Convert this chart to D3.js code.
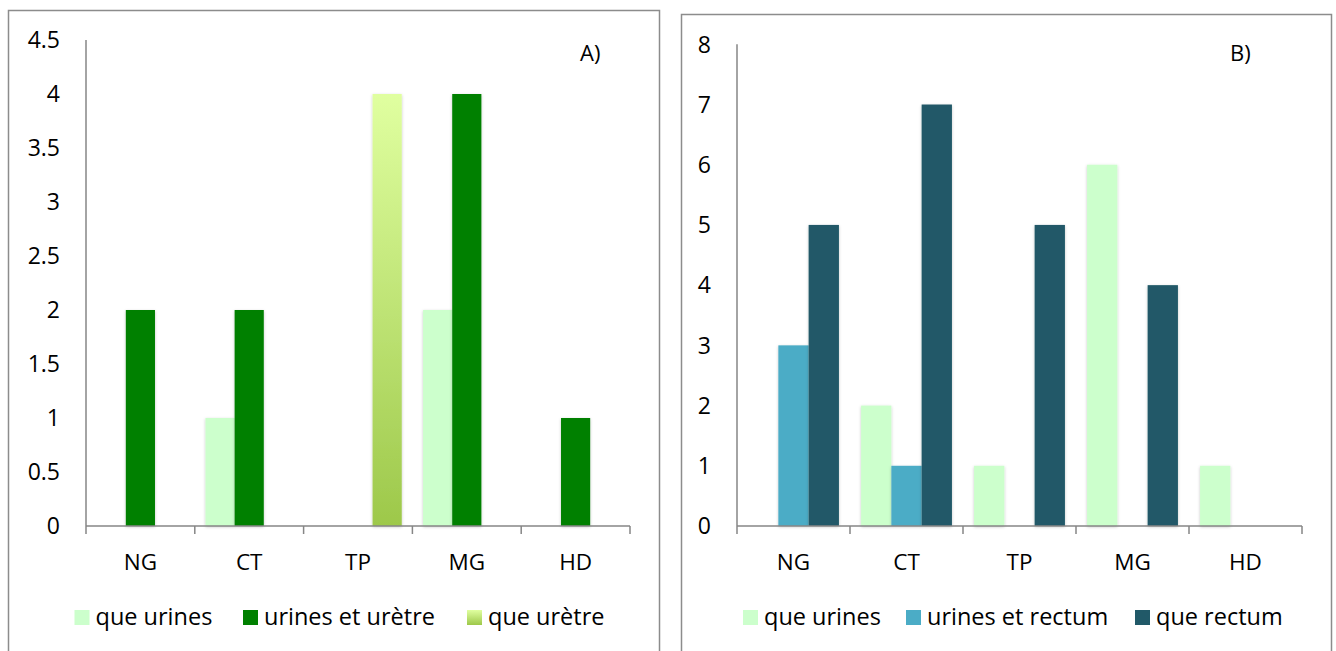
<!DOCTYPE html>
<html>
<head>
<meta charset="utf-8">
<script src="https://cdn.jsdelivr.net/npm/d3@7"></script>
<style>
  html, body { margin: 0; padding: 0; background: #fff; }
  svg { display: block; }
  text { font-family: "Open Sans", "Noto Sans", sans-serif; fill: #000; }
</style>
</head>
<body>
<svg id="chart" width="1336" height="651"></svg>
<script>
// ---- data ----
const categories = ["NG", "CT", "TP", "MG", "HD"];

const seriesA = ["que urines", "urines et urètre", "que urètre"];
const queUrinesA = [0, 1, 0, 2, 0];
const urinesEtUretreA = [2, 2, 0, 4, 1];
const queUretreA = [0, 0, 4, 0, 0];
const ticksA = [0, 0.5, 1, 1.5, 2, 2.5, 3, 3.5, 4, 4.5];

const seriesB = ["que urines", "urines et rectum", "que rectum"];
const queUrinesB = [0, 2, 1, 6, 1];
const urinesEtRectumB = [3, 1, 0, 0, 0];
const queRectumB = [5, 7, 5, 4, 0];
const ticksB = [0, 1, 2, 3, 4, 5, 6, 7, 8];

const svg = d3.select("#chart");
const defs = svg.append("defs");

const grad = defs.append("linearGradient").attr("id", "gradUretre")
  .attr("x1", 0).attr("y1", 0).attr("x2", 0).attr("y2", 1);
grad.append("stop").attr("offset", "0%").attr("stop-color", "#e0ffa0");
grad.append("stop").attr("offset", "100%").attr("stop-color", "#9dc84a");

const shadow = defs.append("filter").attr("id", "shadow")
  .attr("x", "-30%").attr("y", "-10%").attr("width", "160%").attr("height", "120%");
shadow.append("feDropShadow").attr("dx", 0).attr("dy", 1).attr("stdDeviation", 1.6)
  .attr("flood-color", "#000").attr("flood-opacity", 0.22);

function panel(cfg) {
  const g = svg.append("g");
  // frame
  g.append("rect")
    .attr("x", cfg.frame[0]).attr("y", cfg.frame[1])
    .attr("width", cfg.frame[2] - cfg.frame[0]).attr("height", 700)
    .attr("fill", "#fff").attr("stroke", "#8c8c8c").attr("stroke-width", 1.5);

  const x = d3.scaleBand().domain(categories).range([cfg.left, cfg.right]);
  const y = d3.scaleLinear().domain([0, cfg.max]).range([cfg.base, cfg.top]);
  const step = x.bandwidth();
  const w = step * 0.268;
  const xi = d3.scaleBand().domain(cfg.series)
    .range([(step - 3 * w) / 2, (step + 3 * w) / 2]);

  // y axis labels
  g.selectAll(".ylab").data(cfg.ticks).join("text")
    .attr("x", cfg.left - 26)
    .attr("y", d => y(d) + 8.2)
    .attr("text-anchor", "end")
    .attr("font-size", 23)
    .text(d => String(d));

  // bars
  cfg.values.forEach((vals, si) => {
    g.selectAll(".bar" + si).data(categories.map((c, i) => ({c, v: vals[i]})).filter(d => d.v > 0))
      .join("rect")
      .attr("x", d => x(d.c) + xi(cfg.series[si]))
      .attr("y", d => y(d.v))
      .attr("width", w)
      .attr("height", d => y(0) - y(d.v))
      .attr("fill", cfg.colors[si])
      .attr("filter", "url(#shadow)");
  });

  // y axis line
  g.append("line")
    .attr("x1", cfg.left).attr("x2", cfg.left)
    .attr("y1", y(cfg.max)).attr("y2", y(0))
    .attr("stroke", "#868686").attr("stroke-width", 1.5);

  // x axis line + ticks
  g.append("line")
    .attr("x1", cfg.left).attr("x2", cfg.right)
    .attr("y1", y(0)).attr("y2", y(0))
    .attr("stroke", "#868686").attr("stroke-width", 1.5);
  const tickPos = categories.map(c => x(c)).concat([cfg.right]);
  g.selectAll(".xt").data(tickPos).join("line")
    .attr("x1", d => d).attr("x2", d => d)
    .attr("y1", y(0)).attr("y2", y(0) + 8)
    .attr("stroke", "#868686").attr("stroke-width", 1.5);

  // category labels
  g.selectAll(".xlab").data(categories).join("text")
    .attr("x", d => x(d) + step / 2)
    .attr("y", 570)
    .attr("text-anchor", "middle")
    .attr("font-size", 22.5)
    .text(d => d);

  // panel label
  g.append("text").attr("x", cfg.labelX).attr("y", 61)
    .attr("font-size", 22).text(cfg.label);

  // legend
  cfg.series.forEach((s, i) => {
    g.append("rect")
      .attr("x", cfg.legendX[i]).attr("y", 610)
      .attr("width", 15).attr("height", 15)
      .attr("fill", cfg.colors[i]);
    g.append("text")
      .attr("x", cfg.legendX[i] + 21).attr("y", 625)
      .attr("font-size", 23.5)
      .text(s);
  });
}

panel({
  frame: [8.5, 10.5, 659.5],
  left: 86, right: 630, base: 526, top: 40, max: 4.5,
  ticks: ticksA,
  series: seriesA,
  values: [queUrinesA, urinesEtUretreA, queUretreA],
  colors: ["#ccffcc", "#008000", "url(#gradUretre)"],
  label: "A)", labelX: 580,
  legendX: [74.5, 243, 467]
});

panel({
  frame: [681.5, 14.5, 1331.5],
  left: 737, right: 1302, base: 526, top: 44.3, max: 8,
  ticks: ticksB,
  series: seriesB,
  values: [queUrinesB, urinesEtRectumB, queRectumB],
  colors: ["#ccffcc", "#4bacc6", "#215968"],
  label: "B)", labelX: 1230,
  legendX: [743, 906, 1135]
});
</script>
</body>
</html>
